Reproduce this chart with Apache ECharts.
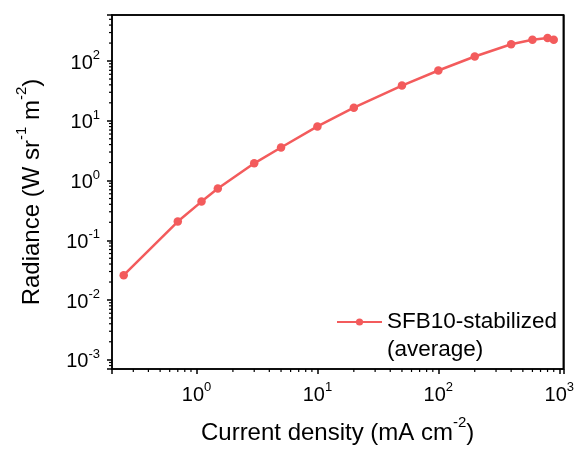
<!DOCTYPE html>
<html>
<head>
<meta charset="utf-8">
<script src="https://cdn.jsdelivr.net/npm/echarts@6/dist/echarts.min.js"></script>
<style>
  html, body { margin: 0; padding: 0; background: #fff; }
  #chart { width: 577px; height: 450px; }
</style>
</head>
<body>
<div id="chart"></div>
<script>
// Radiance vs. current density, log-log
const currentDensity = [0.25, 0.7, 1.1, 1.5, 3, 5, 10, 20, 50, 100, 200, 400, 600, 800, 900];
const radiance = [0.026, 0.206, 0.444, 0.733, 1.94, 3.57, 8.05, 16.6, 38.8, 69.5, 119, 191, 228, 243, 228];
const seriesName = 'SFB10-stabilized';
const seriesNote = '(average)';
const xRange = [0.2, 1080];
const yRange = [0.0007, 590];
const minorSteps = [2, 3, 4, 5, 6, 7, 8, 9];
const xDecades = [-1, 0, 1, 2];
const yDecades = [-4, -3, -2, -1, 0, 1, 2];

const FONT = '"Liberation Sans", Arial, sans-serif';
const RED = '#F35B5C';

// minor tick positions (2..9 within each decade) for both axes
const minorTicks = [];
xDecades.forEach(d => minorSteps.forEach(s => {
  const v = s * Math.pow(10, d);
  if (v > xRange[0] && v < xRange[1]) minorTicks.push([v, yRange[0], 0]);
}));
yDecades.forEach(d => minorSteps.forEach(s => {
  const v = s * Math.pow(10, d);
  if (v > yRange[0] && v < yRange[1]) minorTicks.push([xRange[0], v, 1]);
}));

const points = currentDensity.map((x, i) => [x, radiance[i]]);

// "10^n" labels; non-decade ticks at the axis ends stay blank
function powLabel(v) {
  const e = Math.log10(v);
  const r = Math.round(e);
  if (Math.abs(e - r) > 1e-6) return '';
  return '{b|10}{s|' + r + '}';
}
const powRich = {
  b: { fontSize: 20, fontFamily: FONT, color: '#000', lineHeight: 24, verticalAlign: 'bottom' },
  s: { fontSize: 13, fontFamily: FONT, color: '#000', lineHeight: 13, verticalAlign: 'top' }
};
const titleRich = {
  t: { fontSize: 24, fontFamily: FONT, color: '#000', lineHeight: 30, verticalAlign: 'bottom' },
  u: { fontSize: 15, fontFamily: FONT, color: '#000', lineHeight: 15, verticalAlign: 'top' }
};

const axisCommon = {
  type: 'log',
  logBase: 10,
  axisLine: { show: true, onZero: false, lineStyle: { color: '#000', width: 1.5 } },
  axisTick: { show: true, inside: false, length: 5, lineStyle: { color: '#000', width: 1.5 } },
  splitLine: { show: false },
  minorTick: { show: false },
  nameLocation: 'middle'
};
// plain frame lines along the top and right edges
const frameAxis = {
  type: 'log',
  logBase: 10,
  axisLine: { show: true, onZero: false, lineStyle: { color: '#000', width: 1.5 } },
  axisTick: { show: false },
  axisLabel: { show: false },
  splitLine: { show: false }
};

const chart = echarts.init(document.getElementById('chart'), null, { renderer: 'canvas' });
chart.setOption({
  backgroundColor: '#fff',
  animation: false,
  grid: {
    left: 112, right: 13, top: 15, bottom: 70.5,
    show: true, borderColor: '#000', borderWidth: 1.5, backgroundColor: 'rgba(0,0,0,0)'
  },
  xAxis: [
    Object.assign({}, axisCommon, {
      position: 'bottom',
      min: xRange[0], max: xRange[1],
      axisLabel: { margin: 12, formatter: powLabel, rich: powRich },
      name: '{t|Current density (mA cm}{u|-2}{t|)}',
      nameGap: 46,
      nameTextStyle: { rich: titleRich }
    }),
    Object.assign({}, frameAxis, { position: 'top', offset: 0, min: xRange[0], max: xRange[1] })
  ],
  yAxis: [
    Object.assign({}, axisCommon, {
      position: 'left',
      min: yRange[0], max: yRange[1],
      axisLabel: { margin: 12, formatter: powLabel, rich: powRich },
      name: '{t|Radiance (W sr}{u|-1}{t| m}{u|-2}{t|)}',
      nameGap: 68,
      nameTextStyle: { rich: titleRich }
    }),
    Object.assign({}, frameAxis, { position: 'right', offset: 0, min: yRange[0], max: yRange[1] })
  ],
  legend: {
    data: [seriesName],
    left: 336, top: 280, padding: 0,
    itemWidth: 45, itemHeight: 9,
    // leading blank line keeps the first text line level with the icon
    formatter: name => '\n' + name + '\n' + seriesNote,
    textStyle: { fontSize: 22.5, fontFamily: FONT, color: '#000', lineHeight: 28 }
  },
  series: [
    {
      type: 'custom',
      name: 'minor-ticks',
      silent: true,
      clip: false,
      data: minorTicks,
      renderItem: (params, api) => {
        const kind = api.value(2);
        if (kind === 0) {
          const p = api.coord([api.value(0), yRange[0]]);
          return { type: 'line', shape: { x1: p[0], y1: p[1], x2: p[0], y2: p[1] + 3 },
                   style: { stroke: '#000', lineWidth: 1.2 } };
        }
        const p = api.coord([xRange[0], api.value(1)]);
        return { type: 'line', shape: { x1: p[0] - 3, y1: p[1], x2: p[0], y2: p[1] },
                 style: { stroke: '#000', lineWidth: 1.2 } };
      }
    },
    {
      type: 'line',
      name: seriesName,
      data: points,
      symbol: 'circle',
      symbolSize: 8.5,
      lineStyle: { color: RED, width: 2.5 },
      itemStyle: { color: RED },
      clip: false
    }
  ]
});
</script>
</body>
</html>
